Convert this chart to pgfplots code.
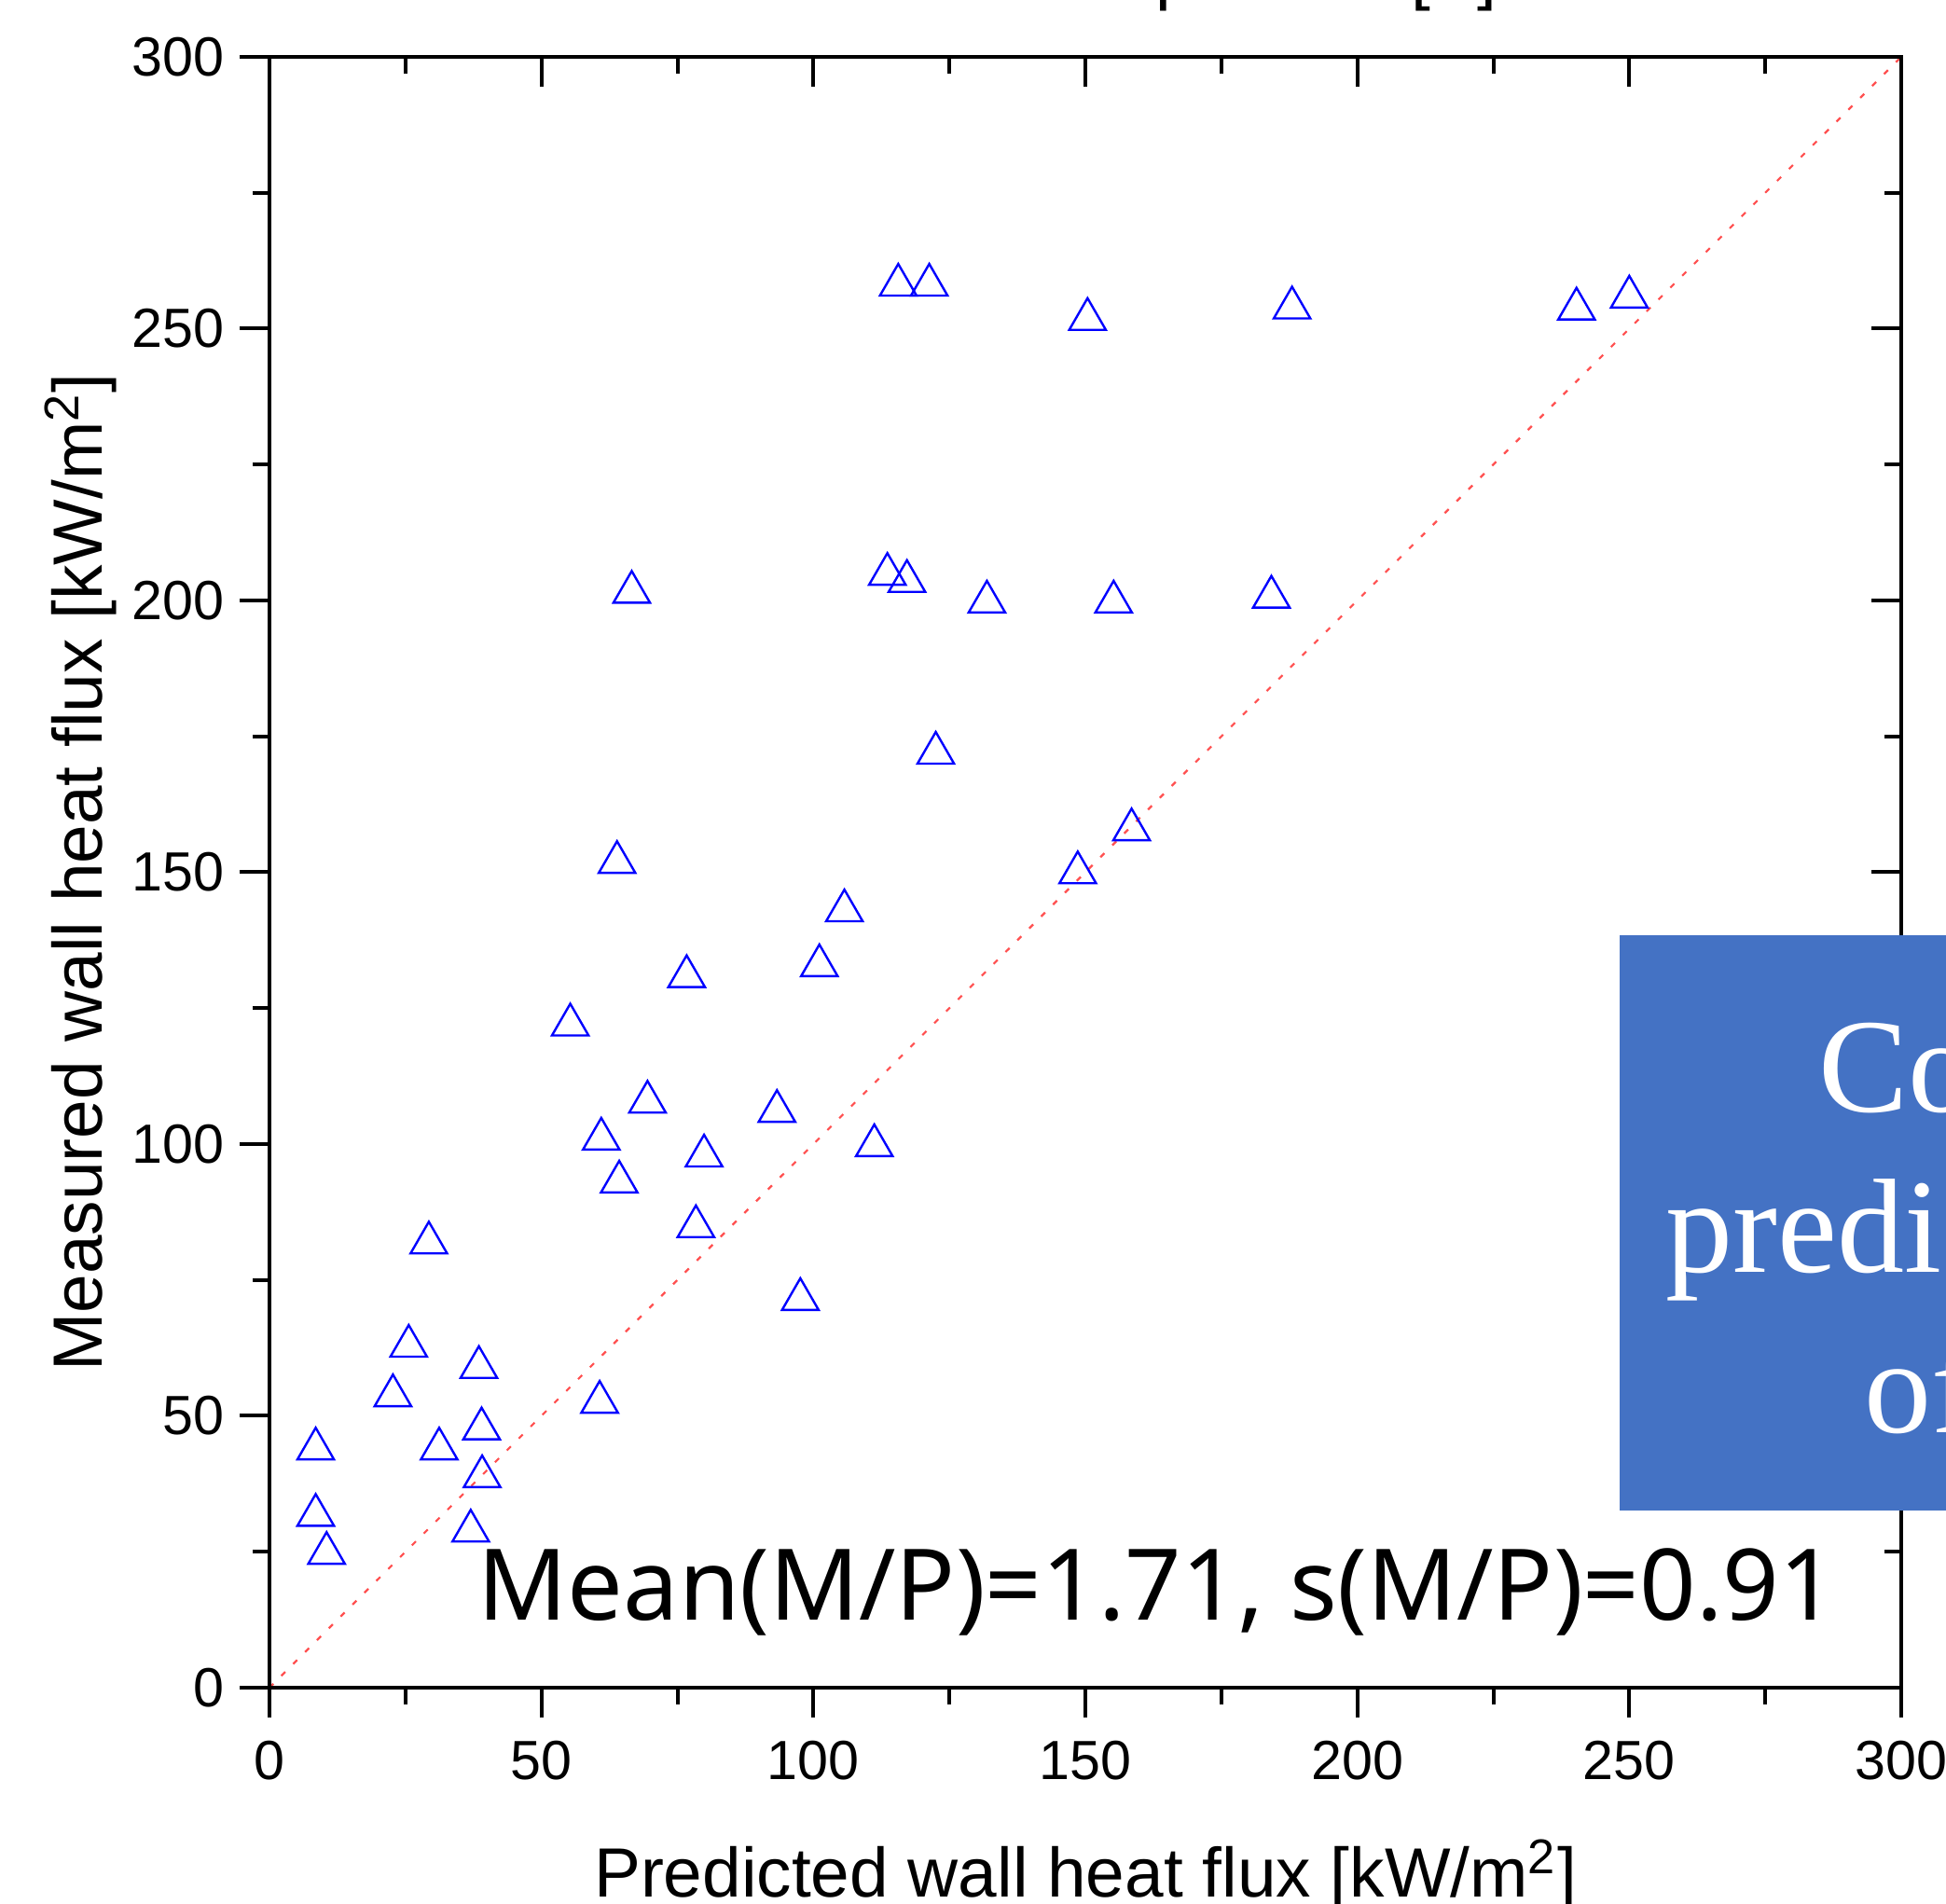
\documentclass[border=0pt]{standalone}
\usepackage{fontspec}
\setmainfont{Liberation Sans}
\newfontfamily\notosans{Noto Sans}
\newfontfamily\tnr{Liberation Serif}
\usepackage{pgfplots}
\usepackage{pgfplotstable}
\pgfplotsset{compat=1.18}
\definecolor{boxblue}{HTML}{4472C4}
\definecolor{diagred}{RGB}{255,80,80}
\pgfdeclareplotmark{otri}{%
  \pgfpathmoveto{\pgfqpoint{0pt}{0.866\pgfplotmarksize}}%
  \pgfpathlineto{\pgfqpoint{\pgfplotmarksize}{-0.866\pgfplotmarksize}}%
  \pgfpathlineto{\pgfqpoint{-\pgfplotmarksize}{-0.866\pgfplotmarksize}}%
  \pgfpathclose\pgfusepathqstroke}

\pgfplotstableread{
x y
8.5 44.9
8.5 32.7
10.5 25.7
22.7 54.7
25.6 63.8
29.3 82.8
31.2 44.9
37.0 29.8
38.5 59.9
39.0 48.6
39.1 39.8
55.3 122.9
60.7 53.5
61.0 101.9
64.3 94.0
63.9 152.8
66.6 202.5
69.5 108.7
76.7 131.8
78.4 85.8
79.9 98.8
93.3 107.0
97.6 72.4
101.1 133.8
105.7 143.9
111.2 100.7
113.6 205.8
117.2 204.5
115.6 259.0
121.3 259.0
122.5 172.9
131.9 200.7
148.6 150.9
150.4 252.7
155.2 200.7
158.5 158.8
184.2 201.6
188.0 254.8
240.3 254.6
250.0 256.8
}\datatable

\begin{document}
\begin{tikzpicture}
\path[use as bounding box] (-72.25pt,-58pt) rectangle (449.5pt,452.5pt);
\begin{scope}
\clip (-72.25pt,-58pt) rectangle (449.5pt,452.5pt);
\begin{axis}[
  at={(0pt,0pt)}, anchor=south west,
  width=437.5pt, height=437.25pt, scale only axis,
  xmin=0, xmax=300, ymin=0, ymax=300,
  xtick={0,50,...,300}, ytick={0,50,...,300},
  minor tick num=1,
  tick pos=left, tick align=outside,
  major tick length=8pt, minor tick length=4.5pt,
  every tick/.style={black, line width=1pt},
  axis line style={line width=1.2pt},
  /pgf/number format/assume math mode=true,
  tick label style={font=\fontsize{14.8}{16}\selectfont},
  xticklabel style={anchor=base, inner sep=0pt, yshift=-16.5pt},
  yticklabel style={anchor=east, inner sep=0pt, xshift=-4pt},
  xlabel={Predicted wall heat flux [kW/m\textsuperscript{2}]},
  ylabel={Measured wall heat flux [kW/m\textsuperscript{2}]},
  label style={font=\fontsize{18.7}{20}\selectfont},
  xlabel style={at={(axis description cs:0.5,-0.1286)}, anchor=base, inner sep=0pt},
  ylabel style={at={(axis description cs:-0.1023,0.5)}, anchor=base, inner sep=0pt},
]
\addplot[diagred, line width=0.55pt, dash pattern=on 1.5pt off 3pt] coordinates {(0,0) (300,300)};
\addplot[only marks, mark=otri, mark size=4.9pt, mark options={draw=blue, line width=0.6pt}] table[x=x, y=y] {\datatable};
\node[anchor=base west, inner sep=0pt, font=\notosans\fontsize{26.5}{30}\selectfont] at (axis cs:38.2,12.5) {Mean(M/P)=1.71, s(M/P)=0.91};
\end{axis}
\begin{axis}[
  at={(0pt,0pt)}, anchor=south west,
  width=437.5pt, height=437.25pt, scale only axis,
  xmin=0, xmax=300, ymin=0, ymax=300,
  xtick={0,50,...,300}, ytick={0,50,...,300},
  minor tick num=1,
  tick pos=right, tick align=inside,
  major tick length=8pt, minor tick length=4.5pt,
  every tick/.style={black, line width=1pt},
  axis line style={line width=1.2pt},
  xticklabels={}, yticklabels={},
]
\end{axis}
\fill[boxblue] (362pt,47.5pt) rectangle (475pt,201.75pt);
\node[anchor=base west, inner sep=0pt, text=white, font=\tnr\fontsize{36}{40}\selectfont] at (415.25pt,154.25pt) {Comparison of};
\node[anchor=base west, inner sep=0pt, text=white, font=\tnr\fontsize{36}{40}\selectfont] at (374.25pt,111.25pt) {prediction results};
\node[anchor=base west, inner sep=0pt, text=white, font=\tnr\fontsize{36}{40}\selectfont] at (427.5pt,68.25pt) {of wall heat flux};
\node[anchor=base west, inner sep=0pt, font=\fontsize{18.7}{20}\selectfont] at (96pt,453.25pt) {Predicted wall superheat [K]};
\end{scope}
\end{tikzpicture}
\end{document}
